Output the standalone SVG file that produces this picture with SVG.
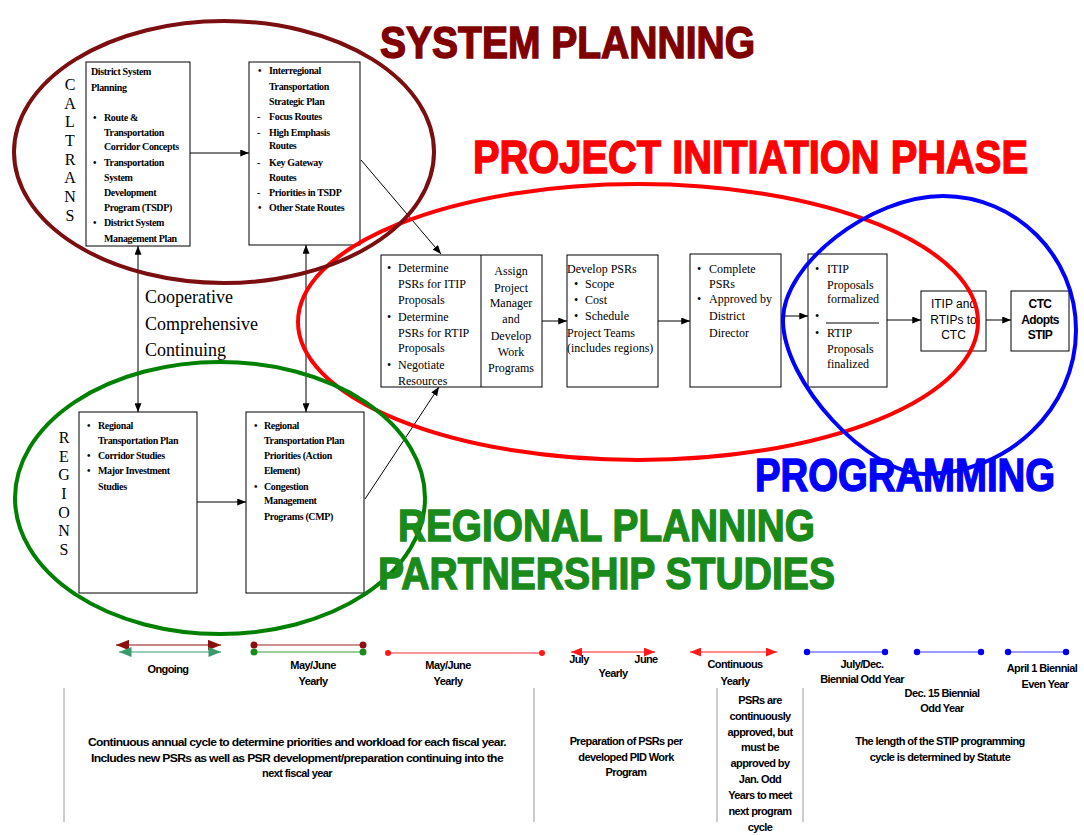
<svg xmlns="http://www.w3.org/2000/svg" width="1084" height="835" viewBox="0 0 1084 835">
<defs>
<style>
.bx{fill:#fff;stroke:#000;stroke-width:1}
.sb{font-family:"Liberation Serif",serif;font-weight:bold;font-size:10px;letter-spacing:-0.35px;fill:#000}
.sr{font-family:"Liberation Serif",serif;font-size:12px;fill:#000}
.ss{font-family:"Liberation Sans",Arial,sans-serif;font-size:12px;fill:#000}
.ssb{font-family:"Liberation Sans",Arial,sans-serif;font-size:12px;font-weight:bold;letter-spacing:-0.6px;fill:#000}
.tl{font-family:"Liberation Sans",Arial,sans-serif;font-size:11px;font-weight:bold;letter-spacing:-0.6px;fill:#000;text-anchor:middle}
.vt{font-family:"Liberation Serif",serif;font-size:16px;fill:#000;text-anchor:middle}
.ttl{font-family:"Liberation Sans",Arial,sans-serif;font-weight:bold;stroke-width:1.4}
.con{stroke:#000;stroke-width:1;fill:none}
.ell{fill:none;stroke-width:4}
.mid{text-anchor:middle}
</style>
<marker id="ah" viewBox="0 0 10 8" refX="10" refY="4" markerWidth="9" markerHeight="7" markerUnits="userSpaceOnUse" orient="auto-start-reverse"><path d="M0,0 L10,4 L0,8 z" fill="#000"/></marker>
<marker id="ahr" viewBox="0 0 10 8" refX="10" refY="4" markerWidth="11" markerHeight="9" markerUnits="userSpaceOnUse" orient="auto-start-reverse"><path d="M0,0 L10,4 L0,8 z" fill="#ff1a1a"/></marker>
<marker id="ahd" viewBox="0 0 10 8" refX="10" refY="4" markerWidth="13" markerHeight="11" markerUnits="userSpaceOnUse" orient="auto-start-reverse"><path d="M0,0 L10,4 L0,8 z" fill="#8b0f0f"/></marker>
<marker id="ahg" viewBox="0 0 10 8" refX="10" refY="4" markerWidth="13" markerHeight="10" markerUnits="userSpaceOnUse" orient="auto-start-reverse"><path d="M0,0 L10,4 L0,8 z" fill="#3a9a6c"/></marker>
</defs>
<rect width="1084" height="835" fill="#fff"/>

<g id="side-labels">
<text class="vt" x="70" y="90">C</text>
<text class="vt" x="70" y="109">A</text>
<text class="vt" x="70" y="127">L</text>
<text class="vt" x="70" y="146">T</text>
<text class="vt" x="70" y="165">R</text>
<text class="vt" x="70" y="183">A</text>
<text class="vt" x="70" y="202">N</text>
<text class="vt" x="70" y="221">S</text>
<text class="vt" x="64" y="443">R</text>
<text class="vt" x="64" y="462">E</text>
<text class="vt" x="64" y="480">G</text>
<text class="vt" x="64" y="499">I</text>
<text class="vt" x="64" y="518">O</text>
<text class="vt" x="64" y="536">N</text>
<text class="vt" x="64" y="555">S</text>
<text font-family="Liberation Serif, serif" font-size="18" x="145" y="303">Cooperative</text>
<text font-family="Liberation Serif, serif" font-size="18" x="145" y="330">Comprehensive</text>
<text font-family="Liberation Serif, serif" font-size="18" x="145" y="356">Continuing</text>
</g>

<g id="node-district">
<rect class="bx" x="86" y="62" width="104" height="184"/>
<text class="sb" x="91" y="75">District System</text>
<text class="sb" x="91" y="91">Planning</text>
<text class="sb" x="93" y="121">•</text><text class="sb" x="104" y="121">Route &amp;</text>
<text class="sb" x="104" y="136">Transportation</text>
<text class="sb" x="104" y="150">Corridor Concepts</text>
<text class="sb" x="93" y="166">•</text><text class="sb" x="104" y="166">Transportation</text>
<text class="sb" x="104" y="181">System</text>
<text class="sb" x="104" y="196">Development</text>
<text class="sb" x="104" y="211">Program (TSDP)</text>
<text class="sb" x="93" y="226">•</text><text class="sb" x="104" y="226">District System</text>
<text class="sb" x="104" y="242">Management Plan</text>
</g>

<g id="node-interregional">
<rect class="bx" x="249" y="62" width="111" height="183"/>
<text class="sb" x="258" y="74">•</text><text class="sb" x="269" y="74">Interregional</text>
<text class="sb" x="269" y="90">Transportation</text>
<text class="sb" x="269" y="105">Strategic Plan</text>
<text class="sb" x="257" y="120">-</text><text class="sb" x="269" y="120">Focus Routes</text>
<text class="sb" x="257" y="136">-</text><text class="sb" x="269" y="136">High Emphasis</text>
<text class="sb" x="269" y="149">Routes</text>
<text class="sb" x="257" y="166">-</text><text class="sb" x="269" y="166">Key Gateway</text>
<text class="sb" x="269" y="181">Routes</text>
<text class="sb" x="257" y="196">-</text><text class="sb" x="269" y="196">Priorities in TSDP</text>
<text class="sb" x="258" y="211">•</text><text class="sb" x="269" y="211">Other State Routes</text>
</g>

<g id="node-regional">
<rect class="bx" x="79" y="412" width="118" height="181"/>
<text class="sb" x="87" y="429">•</text><text class="sb" x="98" y="429">Regional</text>
<text class="sb" x="98" y="444">Transportation Plan</text>
<text class="sb" x="87" y="459">•</text><text class="sb" x="98" y="459">Corridor Studies</text>
<text class="sb" x="87" y="474">•</text><text class="sb" x="98" y="474">Major Investment</text>
<text class="sb" x="98" y="490">Studies</text>
</g>

<g id="node-rtp">
<rect class="bx" x="246" y="412" width="118" height="181"/>
<text class="sb" x="254" y="429">•</text><text class="sb" x="264" y="429">Regional</text>
<text class="sb" x="264" y="444">Transportation Plan</text>
<text class="sb" x="264" y="459">Priorities (Action</text>
<text class="sb" x="264" y="474">Element)</text>
<text class="sb" x="254" y="490">•</text><text class="sb" x="264" y="490">Congestion</text>
<text class="sb" x="264" y="504">Management</text>
<text class="sb" x="264" y="520">Programs (CMP)</text>
</g>

<g id="node-determine">
<rect class="bx" x="381" y="255" width="161" height="132" stroke-width="1.6"/>
<line x1="481" y1="255" x2="481" y2="387" stroke="#000" stroke-width="1"/>
<text class="sr" x="387" y="272">•</text><text class="sr" x="398" y="272">Determine</text>
<text class="sr" x="398" y="288">PSRs for ITIP</text>
<text class="sr" x="398" y="304">Proposals</text>
<text class="sr" x="387" y="321">•</text><text class="sr" x="398" y="321">Determine</text>
<text class="sr" x="398" y="337">PSRs for RTIP</text>
<text class="sr" x="398" y="352">Proposals</text>
<text class="sr" x="387" y="369">•</text><text class="sr" x="398" y="369">Negotiate</text>
<text class="sr" x="398" y="385">Resources</text>
<text class="sr mid" x="511" y="275">Assign</text>
<text class="sr mid" x="511" y="292">Project</text>
<text class="sr mid" x="511" y="307">Manager</text>
<text class="sr mid" x="511" y="323">and</text>
<text class="sr mid" x="511" y="340">Develop</text>
<text class="sr mid" x="511" y="356">Work</text>
<text class="sr mid" x="511" y="372">Programs</text>
</g>

<g id="node-develop">
<rect class="bx" x="567" y="255" width="91" height="132"/>
<text class="sr" x="567" y="273">Develop PSRs</text>
<text class="sr" x="574" y="288">•</text><text class="sr" x="585" y="288">Scope</text>
<text class="sr" x="574" y="304">•</text><text class="sr" x="585" y="304">Cost</text>
<text class="sr" x="574" y="320">•</text><text class="sr" x="585" y="320">Schedule</text>
<text class="sr" x="567" y="337">Project Teams</text>
<text class="sr" x="567" y="352">(includes regions)</text>
</g>

<g id="node-complete">
<rect class="bx" x="690" y="254" width="91" height="133"/>
<text class="sr" x="697" y="273">•</text><text class="sr" x="709" y="273">Complete</text>
<text class="sr" x="709" y="288">PSRs</text>
<text class="sr" x="697" y="303">•</text><text class="sr" x="709" y="303">Approved by</text>
<text class="sr" x="709" y="320">District</text>
<text class="sr" x="709" y="337">Director</text>
</g>

<g id="node-proposals">
<rect class="bx" x="808" y="254" width="79" height="133"/>
<text class="sr" x="815" y="273">•</text><text class="sr" x="827" y="273">ITIP</text>
<text class="sr" x="827" y="289">Proposals</text>
<text class="sr" x="827" y="303">formalized</text>
<text class="sr" x="815" y="320">•</text>
<line x1="826" y1="323" x2="879" y2="323" stroke="#000" stroke-width="1"/>
<text class="sr" x="815" y="337">•</text><text class="sr" x="827" y="337">RTIP</text>
<text class="sr" x="827" y="353">Proposals</text>
<text class="sr" x="827" y="368">finalized</text>
</g>

<g id="node-itip">
<rect class="bx" x="921" y="291" width="65" height="60"/>
<text class="ss mid" x="953.5" y="308">ITIP and</text>
<text class="ss mid" x="953.5" y="324">RTIPs to</text>
<text class="ss mid" x="953.5" y="339">CTC</text>
</g>

<g id="node-ctc">
<rect class="bx" x="1011" y="291" width="58" height="60"/>
<text class="ssb mid" x="1040" y="308">CTC</text>
<text class="ssb mid" x="1040" y="324">Adopts</text>
<text class="ssb mid" x="1040" y="339">STIP</text>
</g>

<g id="connectors">
<line class="con" x1="190" y1="153" x2="249" y2="153" marker-end="url(#ah)"/>
<line class="con" x1="197" y1="502" x2="246" y2="502" marker-end="url(#ah)"/>
<line class="con" x1="138" y1="246" x2="138" y2="412" marker-start="url(#ah)" marker-end="url(#ah)"/>
<line class="con" x1="306" y1="245" x2="306" y2="412" marker-start="url(#ah)" marker-end="url(#ah)"/>
<line class="con" x1="361" y1="160" x2="441" y2="254" marker-end="url(#ah)"/>
<line class="con" x1="365" y1="499" x2="439" y2="387" marker-end="url(#ah)"/>
<line class="con" x1="542" y1="321" x2="567" y2="321" marker-end="url(#ah)"/>
<line class="con" x1="658" y1="321" x2="690" y2="321" marker-end="url(#ah)"/>
<line class="con" x1="781" y1="316" x2="808" y2="316" marker-end="url(#ah)"/>
<line class="con" x1="887" y1="320" x2="921" y2="320" marker-end="url(#ah)"/>
<line class="con" x1="986" y1="320" x2="1011" y2="320" marker-end="url(#ah)"/>
</g>

<g id="phase-ellipses">
<ellipse class="ell" cx="638" cy="322" rx="340" ry="138" stroke="#ff0000"/>
<path class="ell" stroke="#0000ff" d="M943,196 C1016,196 1076,256 1076,330 C1076,409 1008,474 925,474 C868,474 783,382 783,320 C783,264 871,196 943,196 Z"/>
<ellipse class="ell" cx="224" cy="152" rx="210" ry="131" stroke="#7a0e10"/>
<ellipse class="ell" cx="220" cy="498" rx="205" ry="136" stroke="#008000"/>
</g>

<g id="titles">
<text class="ttl" x="380" y="58" font-size="44" fill="#800000" stroke="#800000" textLength="375" lengthAdjust="spacingAndGlyphs">SYSTEM PLANNING</text>
<text class="ttl" x="473" y="173" font-size="46" fill="#ff0000" stroke="#ff0000" textLength="555" lengthAdjust="spacingAndGlyphs">PROJECT INITIATION PHASE</text>
<text class="ttl" x="755" y="491" font-size="46" fill="#0000ff" stroke="#0000ff" textLength="300" lengthAdjust="spacingAndGlyphs">PROGRAMMING</text>
<text class="ttl" x="398" y="541" font-size="44" fill="#1a8a1a" stroke="#1a8a1a" textLength="417" lengthAdjust="spacingAndGlyphs">REGIONAL PLANNING</text>
<text class="ttl" x="378" y="589" font-size="44" fill="#1a8a1a" stroke="#1a8a1a" textLength="457" lengthAdjust="spacingAndGlyphs">PARTNERSHIP STUDIES</text>
</g>

<g id="timeline">
<line x1="116" y1="645" x2="221" y2="645" stroke="#8b0f0f" stroke-width="1.2" marker-start="url(#ahd)" marker-end="url(#ahd)"/>
<line x1="119" y1="652" x2="221" y2="652" stroke="#3a9a6c" stroke-width="1.2" marker-start="url(#ahg)" marker-end="url(#ahg)"/>
<line x1="254" y1="645" x2="363" y2="645" stroke="#a02020" stroke-width="1"/>
<circle cx="254" cy="645" r="3.5" fill="#8b0f0f"/><circle cx="363" cy="645" r="3.5" fill="#8b0f0f"/>
<line x1="254" y1="652" x2="363" y2="652" stroke="#3a9a3a" stroke-width="1"/>
<circle cx="254" cy="652" r="3.5" fill="#1a8a1a"/><circle cx="363" cy="652" r="3.5" fill="#1a8a1a"/>
<line x1="388" y1="653" x2="542" y2="653" stroke="#ff3030" stroke-width="1"/>
<circle cx="388" cy="653" r="3" fill="#ff1a1a"/><circle cx="542" cy="653" r="3" fill="#ff1a1a"/>
<line x1="571" y1="652" x2="655" y2="652" stroke="#ff1a1a" stroke-width="1" marker-start="url(#ahr)" marker-end="url(#ahr)"/>
<line x1="690" y1="652" x2="777" y2="652" stroke="#ff1a1a" stroke-width="1" marker-start="url(#ahr)" marker-end="url(#ahr)"/>
<line x1="807" y1="652" x2="885" y2="652" stroke="#3a3aff" stroke-width="1"/>
<circle cx="807" cy="652" r="3.2" fill="#0000ee"/><circle cx="885" cy="652" r="3.2" fill="#0000ee"/>
<line x1="917" y1="652" x2="981" y2="652" stroke="#3a3aff" stroke-width="1"/>
<circle cx="917" cy="652" r="3.2" fill="#0000ee"/><circle cx="981" cy="652" r="3.2" fill="#0000ee"/>
<line x1="1008" y1="652" x2="1066" y2="652" stroke="#3a3aff" stroke-width="1"/>
<circle cx="1008" cy="652" r="3.2" fill="#0000ee"/><circle cx="1066" cy="652" r="3.2" fill="#0000ee"/>

<text class="tl" x="168" y="673">Ongoing</text>
<text class="tl" x="313" y="669">May/June</text>
<text class="tl" x="313" y="685">Yearly</text>
<text class="tl" x="448" y="669">May/June</text>
<text class="tl" x="448" y="685">Yearly</text>
<text class="tl" x="579" y="663">July</text>
<text class="tl" x="646" y="663">June</text>
<text class="tl" x="613" y="677">Yearly</text>
<text class="tl" x="735" y="668">Continuous</text>
<text class="tl" x="735" y="685">Yearly</text>
<text class="tl" x="862" y="668">July/Dec.</text>
<text class="tl" x="862" y="683">Biennial Odd Year</text>
<text class="tl" x="942" y="697">Dec. 15 Biennial</text>
<text class="tl" x="942" y="712">Odd Year</text>
<text class="tl" x="1042" y="672">April 1 Biennial</text>
<text class="tl" x="1045" y="688">Even Year</text>

<g stroke="#9a9a9a" stroke-width="1">
<line x1="64" y1="688" x2="64" y2="822"/>
<line x1="534" y1="688" x2="534" y2="822"/>
<line x1="717" y1="688" x2="717" y2="822"/>
<line x1="803" y1="688" x2="803" y2="822"/>
</g>

<text class="tl" x="297" y="746" textLength="418" lengthAdjust="spacingAndGlyphs">Continuous annual cycle to determine priorities and workload for each fiscal year.</text>
<text class="tl" x="297" y="762" textLength="412" lengthAdjust="spacingAndGlyphs">Includes new PSRs as well as PSR development/preparation continuing into the</text>
<text class="tl" x="297" y="777">next fiscal year</text>
<text class="tl" x="626" y="745">Preparation of PSRs per</text>
<text class="tl" x="626" y="761">developed PID Work</text>
<text class="tl" x="626" y="776">Program</text>
<text class="tl" x="760" y="704">PSRs are</text>
<text class="tl" x="760" y="720">continuously</text>
<text class="tl" x="760" y="736">approved, but</text>
<text class="tl" x="760" y="751">must be</text>
<text class="tl" x="760" y="767">approved by</text>
<text class="tl" x="760" y="783">Jan. Odd</text>
<text class="tl" x="760" y="799">Years to meet</text>
<text class="tl" x="760" y="815">next program</text>
<text class="tl" x="760" y="831">cycle</text>
<text class="tl" x="940" y="745">The length of the STIP programming</text>
<text class="tl" x="940" y="761">cycle is determined by Statute</text>
</g>
</svg>
